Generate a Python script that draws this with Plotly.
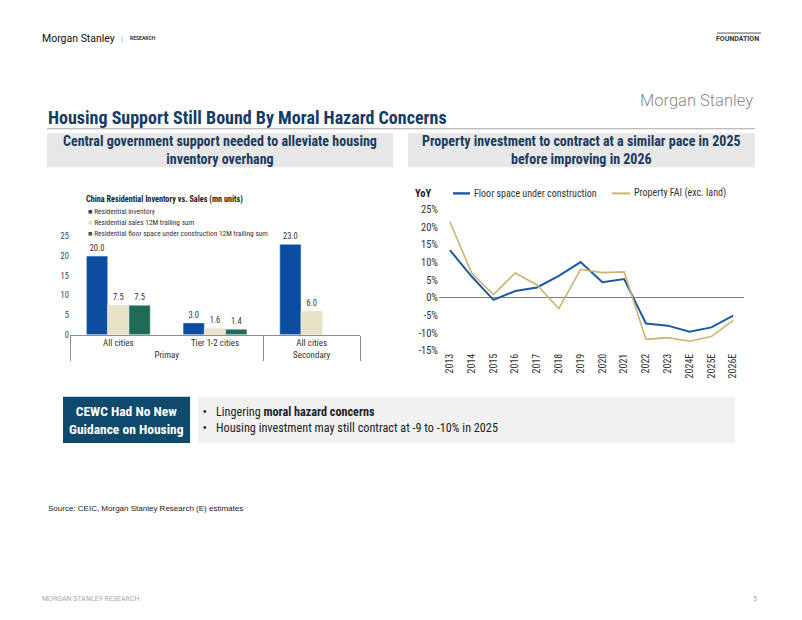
import plotly.graph_objects as go

W, H = 802, 620
def px(x): return x / W
def py(y):
    # vertical position on the page (compensates the slight vertical scaling of the photo)
    return 1 - ((y - 6) / 0.977) / H

NARROW = "Liberation Sans Narrow, Arial Narrow, Roboto Condensed, Liberation Sans, sans-serif"
SANS = "Liberation Sans, Arial, sans-serif"
ROBOTO = "Roboto, Liberation Sans, sans-serif"

# ---------------- data ----------------
bar_groups = ["Primay", "Primay", "Secondary"]
bar_cats = ["All cities", "Tier 1-2 cities", "All cities"]
inventory = [20.0, 3.0, 23.0]
sales_12m = [7.5, 1.6, 6.0]
floor_12m = [7.5, 1.4, None]
bar_names = ["Residential inventory",
             "Residential sales 12M trailing sum",
             "Residential floor space under construction 12M trailing sum"]
bar_colors = ["#0C4DA2", "#EAE2C6", "#1F6B55"]
bar_ticks = [0, 5, 10, 15, 20, 25]

years = ["2013", "2014", "2015", "2016", "2017", "2018", "2019", "2020",
         "2021", "2022", "2023", "2024E", "2025E", "2026E"]
floor_space_yoy = [13.5, 6.0, -0.6, 1.9, 2.9, 6.2, 10.1, 4.4, 5.3,
                   -7.3, -7.9, -9.6, -8.4, -5.1]
property_fai_yoy = [21.5, 7.0, 0.9, 7.0, 3.6, -3.1, 8.0, 7.1, 7.3,
                    -11.8, -11.3, -12.3, -11.0, -6.4]
line_names = ["Floor space under construction", "Property FAI (exc. land)"]
line_colors = ["#1B5AA6", "#CDB36E"]
line_widths = [2, 1.6]
yoy_ticks = [-15, -10, -5, 0, 5, 10, 15, 20, 25]
yoy_ticktext = [f"{v}%" for v in yoy_ticks]

fig = go.Figure()

# ---------------- bar chart ----------------
for vals, name, col in zip([inventory, sales_12m, floor_12m], bar_names, bar_colors):
    fig.add_trace(go.Bar(
        x=[bar_groups, bar_cats], y=vals, name=name, marker_color=col,
        texttemplate="%{y:.1f}", textposition="outside",
        textfont=dict(family=NARROW, size=8.5, color="#333333"),
        cliponaxis=False, showlegend=False, xaxis="x", yaxis="y"))

# ---------------- line chart ----------------
for vals, name, col, w in zip([floor_space_yoy, property_fai_yoy], line_names, line_colors, line_widths):
    fig.add_trace(go.Scatter(
        x=years, y=vals, name=name, mode="lines",
        line=dict(color=col, width=w), xaxis="x2", yaxis="y2", showlegend=False))

fig.update_layout(
    width=W, height=H, margin=dict(l=0, r=0, t=0, b=0),
    paper_bgcolor="white", plot_bgcolor="rgba(0,0,0,0)",
    barmode="group", bargap=0.34, bargroupgap=0,
    font=dict(family=NARROW, color="#333333"),
    xaxis=dict(domain=[px(70), px(360)], type="multicategory",
               showline=True, linecolor="#8C8C8C", linewidth=1,
               showdividers=True, dividercolor="#8C8C8C", dividerwidth=1,
               tickfont=dict(family=NARROW, size=9, color="#333333"),
               showgrid=False, ticks=""),
    yaxis=dict(domain=[py(334), py(236)], range=[0, 25], tickvals=bar_ticks,
               showgrid=False, zeroline=False, showline=False, ticks="",
               tickfont=dict(family=NARROW, size=8.5, color="#444444")),
    xaxis2=dict(domain=[px(439), px(744)], anchor="y2", type="category",
                range=[-0.5, 13.5], tickangle=-90, showgrid=False, ticks="",
                showline=False,
                tickfont=dict(family=NARROW, size=10, color="#333333")),
    yaxis2=dict(domain=[py(350), py(209)], anchor="x2", range=[-15, 25],
                tickvals=yoy_ticks, ticktext=yoy_ticktext, showgrid=False,
                zeroline=True, zerolinecolor="#7F7F7F", zerolinewidth=1,
                showline=False, ticks="",
                tickfont=dict(family=NARROW, size=10.5, color="#333333")),
)

shapes = []
annos = []

# header
annos.append(dict(x=px(40), y=py(38), text="Morgan Stanley", xanchor="left", yanchor="middle",
                  font=dict(family=ROBOTO, size=10.5, color="#111111")))
annos.append(dict(x=px(122), y=py(38), text="|", xanchor="center", yanchor="middle",
                  font=dict(family=ROBOTO, size=8, color="#999999")))
annos.append(dict(x=px(128), y=py(38), text="<b>RESEARCH</b>", xanchor="left", yanchor="middle",
                  font=dict(family=ROBOTO, size=5, color="#333333")))
annos.append(dict(x=px(761), y=py(38.5), text="<b>FOUNDATION</b>", xanchor="right", yanchor="middle",
                  font=dict(family=ROBOTO, size=7, color="#333333")))
shapes.append(dict(type="line", xref="paper", yref="paper", x0=px(717), x1=px(761),
                   y0=py(33), y1=py(33), line=dict(color="#555555", width=1)))
annos.append(dict(x=px(755), y=py(100), text="Morgan Stanley", xanchor="right", yanchor="middle",
                  font=dict(family=ROBOTO, size=16.5, color="#8A8A8A", weight=300)))

# title
annos.append(dict(x=px(46), y=py(117), text="<b>Housing Support Still Bound By Moral Hazard Concerns</b>",
                  xanchor="left", yanchor="middle",
                  font=dict(family=NARROW, size=18, color="#153B68")))
shapes.append(dict(type="line", xref="paper", yref="paper", x0=px(47), x1=px(755),
                   y0=py(128.5), y1=py(128.5), line=dict(color="#A6A6A6", width=1)))

# subtitle boxes
for x0, x1, txt in [(47, 393, "<b>Central government support needed to alleviate housing<br>inventory overhang</b>"),
                    (408, 755, "<b>Property investment to contract at a similar pace in 2025<br>before improving in 2026</b>")]:
    shapes.append(dict(type="rect", xref="paper", yref="paper", x0=px(x0), x1=px(x1),
                       y0=py(167), y1=py(133), fillcolor="#E7E7E7", line=dict(width=0), layer="below"))
    annos.append(dict(x=px((x0 + x1) / 2), y=py(150), text=txt, xanchor="center", yanchor="middle",
                      align="center", font=dict(family=NARROW, size=14, color="#1B3A5E")))

# bar chart title and legend
annos.append(dict(x=px(84), y=py(199), text="<b>China Residential Inventory vs. Sales (mn units)</b>",
                  xanchor="left", yanchor="middle", font=dict(family=NARROW, size=8.2, color="#222222")))
for i, (name, col) in enumerate(zip(bar_names, bar_colors)):
    annos.append(dict(x=px(86), y=py(211 + 11 * i),
                      text=f"<span style='color:{col}'>■</span> {name}",
                      xanchor="left", yanchor="middle",
                      font=dict(family=NARROW, size=7.4, color="#333333")))

# line chart legend and YoY label
annos.append(dict(x=px(413), y=py(193), text="<b>YoY</b>", xanchor="left", yanchor="middle",
                  font=dict(family=NARROW, size=10.5, color="#222222")))
for (lx0, lx1, tx), name, col, w in zip([(453, 470, 472), (612, 630, 632)], line_names, line_colors, line_widths):
    shapes.append(dict(type="line", xref="paper", yref="paper", x0=px(lx0), x1=px(lx1),
                       y0=py(193), y1=py(193), line=dict(color=col, width=w + 0.4)))
    annos.append(dict(x=px(tx), y=py(193), text=name, xanchor="left", yanchor="middle",
                      font=dict(family=NARROW, size=10, color="#333333")))

# bottom boxes
shapes.append(dict(type="rect", xref="paper", yref="paper", x0=px(63), x1=px(190),
                   y0=py(442), y1=py(396), fillcolor="#0E4A6B", line=dict(width=0), layer="below"))
annos.append(dict(x=px(126.5), y=py(419), text="<b>CEWC Had No New<br>Guidance on Housing</b>",
                  xanchor="center", yanchor="middle", align="center",
                  font=dict(family=NARROW, size=13.5, color="white")))
shapes.append(dict(type="rect", xref="paper", yref="paper", x0=px(198), x1=px(735),
                   y0=py(442), y1=py(396), fillcolor="#F1F1F1", line=dict(width=0), layer="below"))
for yy in (411, 427):
    annos.append(dict(x=px(201), y=py(yy), text="•", xanchor="left", yanchor="middle",
                      font=dict(family=SANS, size=10, color="#222222")))
annos.append(dict(x=px(214), y=py(411), text="Lingering <b>moral hazard concerns</b>",
                  xanchor="left", yanchor="middle", font=dict(family=NARROW, size=12.2, color="#222222")))
annos.append(dict(x=px(214), y=py(427), text="Housing investment may still contract at -9 to -10% in 2025",
                  xanchor="left", yanchor="middle", font=dict(family=NARROW, size=12.2, color="#222222")))

# source and footer
annos.append(dict(x=px(46), y=py(507), text="Source: CEIC, Morgan Stanley Research (E) estimates",
                  xanchor="left", yanchor="middle", font=dict(family=SANS, size=8, color="#222222")))
annos.append(dict(x=px(40), y=py(598), text="MORGAN STANLEY RESEARCH", xanchor="left", yanchor="middle",
                  font=dict(family=ROBOTO, size=7, color="#A8A8A8")))
annos.append(dict(x=px(759), y=py(598), text="5", xanchor="right", yanchor="middle",
                  font=dict(family=ROBOTO, size=7, color="#A8A8A8")))

for a in annos:
    a.setdefault("xref", "paper")
    a.setdefault("yref", "paper")
    a.setdefault("showarrow", False)

fig.update_layout(shapes=shapes, annotations=annos)
fig.write_html("out.html", config={"displayModeBar": False},
               post_script="document.body.style.margin='0';document.body.style.overflow='hidden';")
